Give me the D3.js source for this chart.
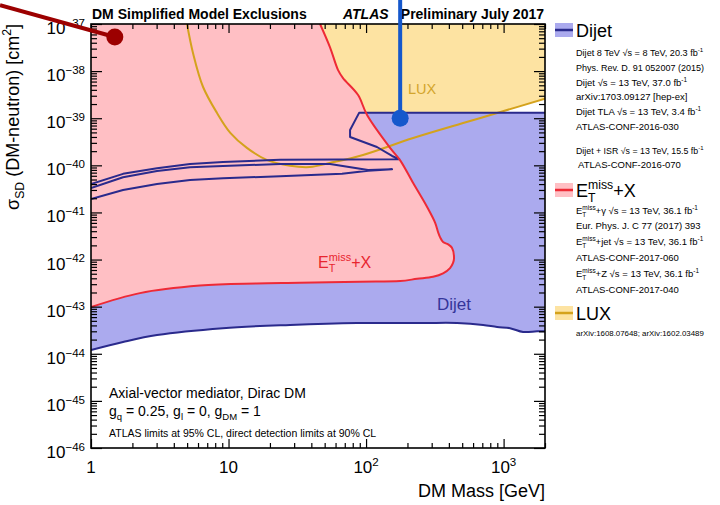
<!DOCTYPE html>
<html>
<head>
<meta charset="utf-8">
<script src="https://cdn.jsdelivr.net/npm/d3@7"></script>
<style>
  html, body { margin: 0; padding: 0; background: #fff; }
  svg { display: block; font-family: "Liberation Sans", Arial, Helvetica, sans-serif; }
  text { white-space: pre; }
</style>
</head>
<body>
<script>
// ---- Exclusion contours: [DM mass (GeV), sigma_SD (cm^2)] ----
const luxLimit = [
  [4.99, 1e-37], [5.52, 2.4e-38], [6.53, 4.6e-39], [8.25, 1.29e-39], [10.3, 4.9e-40],
  [13.6, 2.35e-40], [19.1, 1.29e-40], [28, 9.8e-41], [39, 9.2e-41], [55, 1.13e-40],
  [95, 1.66e-40], [220, 3.8e-40], [508, 7.9e-40], [897, 1.29e-39], [2000, 2.6e-39]
];
const etmissLimit = [
  [46.3, 1e-37], [54.7, 3.2e-38], [62.6, 1.05e-38], [68, 7.1e-39], [87.5, 3.1e-39],
  [101.7, 1.17e-39], [149.5, 2.35e-40], [176.6, 1.29e-40], [220, 4.2e-41], [278, 1.3e-41],
  [318, 6e-42], [334, 3.8e-42], [345, 3.0e-42], [363, 2.35e-42], [395, 2.1e-42],
  [422, 1.75e-42], [436, 1.07e-42], [429, 8.5e-43], [408, 6.6e-43], [363, 5.1e-43],
  [307, 4.3e-43], [235, 3.9e-43], [177, 3.5e-43], [90, 3.4e-43], [33, 3.2e-43],
  [16, 3.1e-43], [6.2, 2.8e-43], [2.27, 1.94e-43], [1, 9.8e-44]
];
const dijetLower = [
  [1, 1.2e-44], [1.71, 1.78e-44], [3.02, 2.5e-44], [9.1, 3.5e-44], [28, 4.1e-44],
  [86, 4.5e-44], [260, 4.5e-44], [459, 4.5e-44], [710, 4.1e-44], [897, 3.7e-44],
  [1114, 3.5e-44], [1386, 2.9e-44], [1753, 3.0e-44], [2000, 3.0e-44]
];
const dijetUpper = [
  [2000, 1.3e-39], [89, 1.3e-39], [76.5, 5.6e-40], [76.5, 4.0e-40], [120, 2.45e-40],
  [154.6, 1.58e-40], [174, 1.35e-40], [23.7, 1.32e-40], [9.12, 1.17e-40], [5.25, 1.07e-40],
  [3.02, 8.7e-41], [1.71, 6.6e-41], [1, 4.0e-41]
];
const dijetISR = [
  [1, 3.3e-41], [1.71, 5.6e-41], [3.02, 7.6e-41], [5.25, 9.1e-41], [23.7, 1.07e-40],
  [54.7, 1.07e-40], [103.5, 8.0e-41], [154.6, 8.3e-41], [103.5, 7.7e-41], [66.9, 6.6e-41],
  [23.7, 5.9e-41], [9.12, 5.3e-41], [5.25, 4.9e-41], [3.02, 4.0e-41], [1.71, 3.0e-41],
  [1, 1.93e-41]
];
// Call-out pointers: [tail, head]
const pointerRed = [[0.218, 2.5e-37], [1.49, 5.3e-38]];
const pointerBlue = [[177, 3.3e-37], [177, 1.0e-39]];

// ---- Axis ticks ----
const xTickValues = [1, 10, 100, 1000];
const xTickLabels = ["1", "10", "10^{2}", "10^{3}"];
const yTickValues = [1e-46, 1e-45, 1e-44, 1e-43, 1e-42, 1e-41, 1e-40, 1e-39, 1e-38, 1e-37];
const yTickLabels = ["10^{−46}", "10^{−45}", "10^{−44}", "10^{−43}", "10^{−42}",
                     "10^{−41}", "10^{−40}", "10^{−39}", "10^{−38}", "10^{−37}"];

// ---- Legend ----
const legendLabels = ["Dijet", "E_{T}^{miss}+X", "LUX"];
const legendRefs = [
  ["Dijet 8 TeV √s = 8 TeV, 20.3 fb^{-1}", "Phys. Rev. D. 91 052007 (2015)",
   "Dijet √s = 13 TeV, 37.0 fb^{-1}", "arXiv:1703.09127 [hep-ex]",
   "Dijet TLA √s = 13 TeV, 3.4 fb^{-1}", "ATLAS-CONF-2016-030",
   "Dijet + ISR √s = 13 TeV, 15.5 fb^{-1}", " ATLAS-CONF-2016-070"],
  ["E_{T}^{miss}+γ √s = 13 TeV, 36.1 fb^{-1}", "Eur. Phys. J. C 77 (2017) 393",
   "E_{T}^{miss}+jet √s = 13 TeV, 36.1 fb^{-1}", "ATLAS-CONF-2017-060",
   "E_{T}^{miss}+Z √s = 13 TeV, 36.1 fb^{-1}", "ATLAS-CONF-2017-040"],
  ["arXiv:1608.07648; arXiv:1602.03489"]
];

// ---- Styles ----
const C = {
  luxFill: "#fde3a2", luxLine: "#d4a21c", luxText: "#d3a52c",
  dijetFill: "#abaaee", dijetLine: "#2a2a8c", dijetText: "#35359a",
  etFill: "#ffbfc4", etLine: "#ee2a36", etText: "#e8252f",
  ptrRed: "#9c0000", ptrBlue: "#1558cc"
};

const W = 720, H = 505;
const svg = d3.select("body").append("svg").attr("width", W).attr("height", H);

const x = d3.scaleLog().domain([1, 2000]).range([91, 545]);
const y = d3.scaleLog().domain([1e-46, 1e-37]).range([448, 24]);

// Rich text: supports ^{...} and _{...}; a superscript right after a subscript stacks on it
function rich(t, str, size) {
  t.selectAll("tspan").remove();
  const parts = str.split(/(\^\{[^}]*\}|_\{[^}]*\})/).filter(p => p !== "");
  let shift = 0, lastSubW = null;
  parts.forEach(p => {
    const isSup = p.startsWith("^{"), isSub = p.startsWith("_{");
    const target = isSup ? -0.42 * size : isSub ? 0.3 * size : 0;
    const content = (isSup || isSub) ? p.slice(2, -1) : p;
    const span = t.append("tspan")
      .attr("font-size", (isSup || isSub) ? 0.68 * size : size)
      .attr("dy", target - shift)
      .text(content);
    if (isSup && lastSubW != null) span.attr("dx", -lastSubW);
    shift = target;
    lastSubW = isSub ? span.node().getComputedTextLength() : null;
  });
  return t;
}

// ---- Plot area ----
svg.append("clipPath").attr("id", "plotclip").append("rect")
  .attr("x", 91).attr("y", 24).attr("width", 454).attr("height", 424);
const plot = svg.append("g").attr("clip-path", "url(#plotclip)");

const smooth = d3.line().x(d => x(d[0])).y(d => y(d[1])).curve(d3.curveCatmullRom.alpha(0.5));
const straight = d3.line().x(d => x(d[0])).y(d => y(d[1]));
const toL = s => s.replace(/^M/, "L");

// LUX: excluded above the curve
plot.append("path")
  .attr("d", smooth(luxLimit) + `L${x(2000)},${y(1e-37)}Z`)
  .attr("fill", C.luxFill);

// Dijet: between lower limit and upper contour
plot.append("path")
  .attr("d", smooth(dijetLower) + toL(straight(dijetUpper)) + "Z")
  .attr("fill", C.dijetFill);

// Etmiss+X: excluded region to the upper-left of the curve
plot.append("path")
  .attr("d", `M${x(1)},${y(1e-37)}` + toL(smooth(etmissLimit)) + "Z")
  .attr("fill", C.etFill);

// Contour lines
plot.append("path").attr("d", smooth(luxLimit))
  .attr("fill", "none").attr("stroke", C.luxLine).attr("stroke-width", 2);
[[dijetUpper, straight], [dijetISR, straight], [dijetLower, smooth]].forEach(([d, gen]) => {
  plot.append("path").attr("d", gen(d))
    .attr("fill", "none").attr("stroke", C.dijetLine).attr("stroke-width", 2)
    .attr("stroke-linejoin", "round");
});
plot.append("path").attr("d", smooth(etmissLimit))
  .attr("fill", "none").attr("stroke", C.etLine).attr("stroke-width", 2);

// In-plot labels
rich(plot.append("text").attr("x", x(202)).attr("y", y(1e-38) + 23).attr("fill", C.luxText), "LUX", 14.5);
rich(svg.append("text").attr("x", x(44.8)).attr("y", y(1e-42) + 8).attr("fill", C.etText), "E_{T}^{miss}+X", 16);
rich(svg.append("text").attr("x", x(328)).attr("y", y(1e-43) + 3).attr("fill", C.dijetText), "Dijet", 17);

// ---- Axes (ROOT style: inward ticks on all four sides) ----
const xAll = x.ticks();
const yAll = y.ticks();
const isMajor = v => Math.abs(Math.log10(v) - Math.round(Math.log10(v))) < 1e-6;
const xMinor = xAll.filter(v => !isMajor(v)), yMinor = yAll.filter(v => !isMajor(v));

function axisGroup(axis, tx, ty) {
  const g = svg.append("g").attr("transform", `translate(${tx},${ty})`).call(axis);
  g.select(".domain").remove();
  g.selectAll("line").attr("stroke", "#000").attr("stroke-width", 1.2);
  g.selectAll("text").remove();
  return g;
}
axisGroup(d3.axisBottom(x).tickValues(xTickValues).tickSizeInner(-9).tickSizeOuter(0), 0, 448);
axisGroup(d3.axisBottom(x).tickValues(xMinor).tickSizeInner(-5).tickSizeOuter(0), 0, 448);
axisGroup(d3.axisTop(x).tickValues(xTickValues).tickSizeInner(-9).tickSizeOuter(0), 0, 24);
axisGroup(d3.axisTop(x).tickValues(xMinor).tickSizeInner(-5).tickSizeOuter(0), 0, 24);
axisGroup(d3.axisLeft(y).tickValues(yTickValues).tickSizeInner(-11).tickSizeOuter(0), 91, 0);
axisGroup(d3.axisLeft(y).tickValues(yMinor).tickSizeInner(-6).tickSizeOuter(0), 91, 0);
axisGroup(d3.axisRight(y).tickValues(yTickValues).tickSizeInner(-11).tickSizeOuter(0), 545, 0);
axisGroup(d3.axisRight(y).tickValues(yMinor).tickSizeInner(-6).tickSizeOuter(0), 545, 0);

svg.append("rect").attr("x", 91).attr("y", 24).attr("width", 454).attr("height", 424)
  .attr("fill", "none").attr("stroke", "#000").attr("stroke-width", 1.6);

// Tick labels
xTickValues.forEach((v, i) => {
  rich(svg.append("text").attr("x", x(v)).attr("y", 473).attr("text-anchor", "middle"),
       xTickLabels[i], 17);
});
yTickValues.forEach((v, i) => {
  rich(svg.append("text").attr("x", 85).attr("y", y(v) + 10).attr("text-anchor", "end"),
       yTickLabels[i], 17);
});

// Axis titles
rich(svg.append("text").attr("x", 545).attr("y", 497).attr("text-anchor", "end"), "DM Mass [GeV]", 18);
rich(svg.append("text").attr("transform", "translate(19,24) rotate(-90)").attr("text-anchor", "end"),
     "σ_{SD} (DM-neutron) [cm^{2}]", 18);

// Header
svg.append("text").attr("x", 92).attr("y", 19).attr("font-size", 14).attr("font-weight", "bold")
  .text("DM Simplified Model Exclusions");
svg.append("text").attr("x", 343).attr("y", 19).attr("font-size", 14).attr("font-weight", "bold")
  .attr("font-style", "italic").text("ATLAS");
svg.append("text").attr("x", 544).attr("y", 19).attr("font-size", 14).attr("font-weight", "bold")
  .attr("text-anchor", "end").text("Preliminary July 2017");

// Model description
rich(svg.append("text").attr("x", 109).attr("y", 398), "Axial-vector mediator, Dirac DM", 14);
rich(svg.append("text").attr("x", 109).attr("y", 416), "g_{q} = 0.25, g_{l} = 0, g_{DM} = 1", 14);
rich(svg.append("text").attr("x", 109).attr("y", 437),
     "ATLAS limits at 95% CL, direct detection limits at 90% CL", 10.5);

// ---- Legend ----
const legendStyle = [
  { fill: C.dijetFill, line: C.dijetLine },
  { fill: C.etFill, line: C.etLine },
  { fill: C.luxFill, line: C.luxLine }
];
const headerY = [37, 197, 320];
const refY = [[56, 71, 86, 100, 115, 130, 154, 168], [214, 229, 245, 261, 277, 293], [336]];
legendLabels.forEach((lab, i) => {
  const g = svg.append("g");
  g.append("rect").attr("x", 555).attr("y", headerY[i] - 14).attr("width", 18).attr("height", 14)
    .attr("fill", legendStyle[i].fill);
  g.append("line").attr("x1", 555).attr("x2", 573)
    .attr("y1", headerY[i] - 7).attr("y2", headerY[i] - 7)
    .attr("stroke", legendStyle[i].line).attr("stroke-width", 2.5);
  rich(g.append("text").attr("x", 576).attr("y", headerY[i]), lab, 18);
  legendRefs[i].forEach((r, j) => {
    const t = rich(g.append("text").attr("x", 576).attr("y", refY[i][j]), r, 9.5);
    // shrink any reference line that would run past the right margin
    const w = t.node().getBBox().width;
    if (576 + w > 704) rich(t, r, 9.5 * (704 - 576) / w);
  });
});

// ---- Call-out pointers ----
[[pointerRed, C.ptrRed], [pointerBlue, C.ptrBlue]].forEach(([p, col]) => {
  svg.append("line")
    .attr("x1", x(p[0][0])).attr("y1", y(p[0][1]))
    .attr("x2", x(p[1][0])).attr("y2", y(p[1][1]))
    .attr("stroke", col).attr("stroke-width", 4);
  svg.append("circle").attr("cx", x(p[1][0])).attr("cy", y(p[1][1])).attr("r", 8.5).attr("fill", col);
});
</script>
</body>
</html>
